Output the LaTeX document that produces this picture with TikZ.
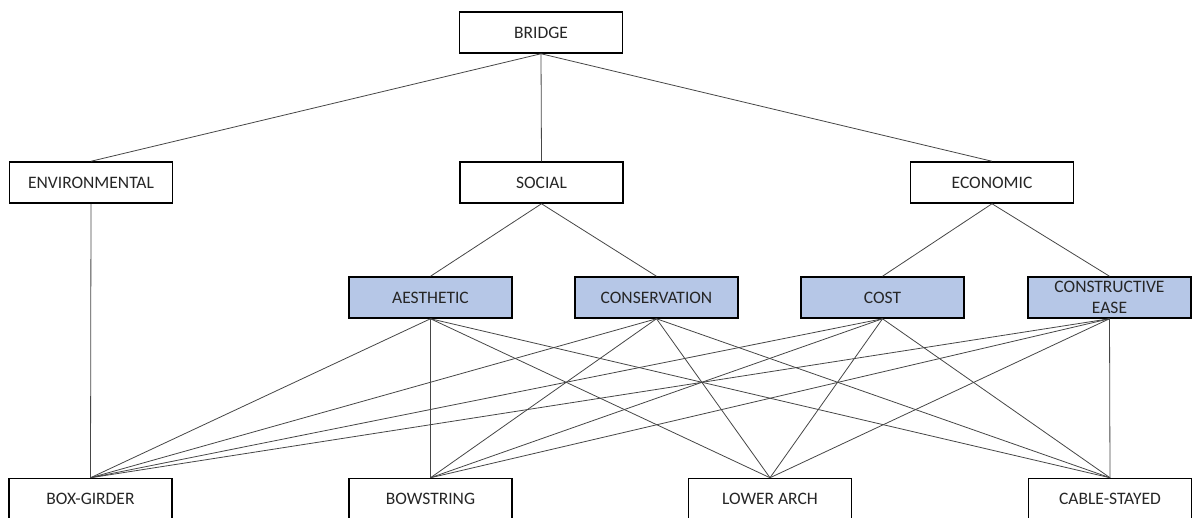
\documentclass[tikz,border=0pt]{standalone}
\usepackage{fontspec}
\setmainfont{Carlito}
\definecolor{boxblue}{RGB}{182,199,231}
\definecolor{linegray}{RGB}{70,70,70}
\begin{document}
\begin{tikzpicture}[x=1pt,y=1pt,
  box/.style={draw=black,line width=1.5pt,fill=white,minimum width=163pt,minimum height=41pt,inner sep=0pt,align=center,font=\fontsize{17.5}{21}\selectfont,text=black!85},
  crit/.style={box,fill=boxblue},
  link/.style={draw=linegray,line width=0.8pt}]
\useasboundingbox (0,0) rectangle (1192,-517);
\node[box] (bridge) at (541,-32.5) {BRIDGE};
\node[box] (env) at (91,-182.5) {ENVIRONMENTAL};
\node[box] (soc) at (541.5,-182.5) {SOCIAL};
\node[box] (eco) at (992,-182.5) {ECONOMIC};
\node[crit] (aes) at (430.5,-297.5) {AESTHETIC};
\node[crit] (con) at (656.5,-297.5) {CONSERVATION};
\node[crit] (cost) at (882.5,-297.5) {COST};
\node[crit] (ease) at (1109.5,-297.5) {CONSTRUCTIVE\\EASE};
\node[box] (box) at (90.5,-499) {BOX-GIRDER};
\node[box] (bow) at (430.5,-499) {BOWSTRING};
\node[box] (low) at (770,-499) {LOWER ARCH};
\node[box] (cab) at (1110,-499) {CABLE-STAYED};
\draw[link] (bridge.south) -- (env.north);
\draw[link] (bridge.south) -- (soc.north);
\draw[link] (bridge.south) -- (eco.north);
\draw[link] (env.south) -- (box.north);
\draw[link] (soc.south) -- (aes.north);
\draw[link] (soc.south) -- (con.north);
\draw[link] (eco.south) -- (cost.north);
\draw[link] (eco.south) -- (ease.north);
\foreach \c in {aes,con,cost,ease}{
  \foreach \a in {box,bow,low,cab}{
    \draw[link] (\c.south) -- (\a.north);
  }
}
\end{tikzpicture}
\end{document}
